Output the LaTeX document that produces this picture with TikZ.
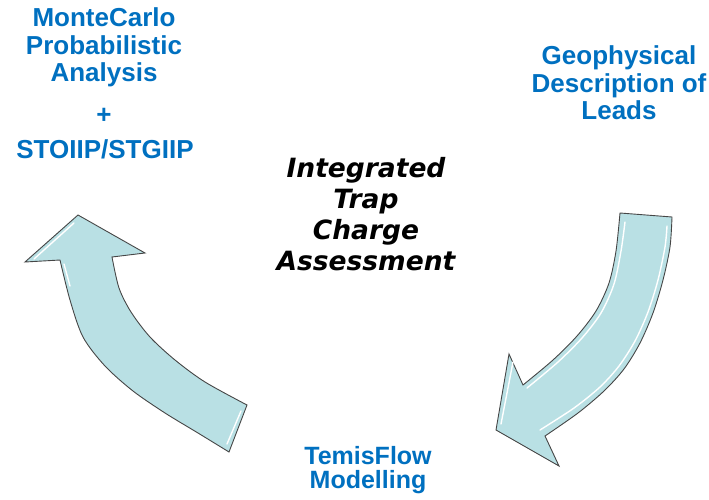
\documentclass[tikz,border=0pt]{standalone}
\usepackage{fontspec}
\setmainfont{Liberation Sans}
\newfontfamily\centerfont{DejaVu Sans}
\definecolor{arrowfill}{RGB}{185,224,228}
\definecolor{labelblue}{RGB}{0,112,192}
\definecolor{arrowline}{RGB}{70,70,70}

\begin{document}
\begin{tikzpicture}[x=1pt,y=-1pt,
  bigarrow/.style={fill=arrowfill, draw=arrowline, line width=0.9pt, line join=miter},
  gleam/.style={white, line width=1.4pt, line cap=round},
  % multi-line labels are anchored at the baseline of their last line
  bluelabel/.style={text=labelblue, font=\bfseries\fontsize{26}{27.5}\selectfont,
                    align=center, inner sep=0pt, anchor=base},
  centerlabel/.style={font=\centerfont\bfseries\itshape\fontsize{26.5}{31}\selectfont,
                      align=center, inner sep=0pt, anchor=base}]
\useasboundingbox (0,0) rectangle (709,500);

% curved arrow on the right, pointing down-left
\draw[bigarrow] (620,213) -- (672,217)
  -- plot[smooth] coordinates {(672,217) (670,247) (663,280) (653,313) (640,343) (624,369) (604,391) (578,413) (545,436)}
  -- (559,466) -- (496,430) -- (509,354)
  -- plot[smooth] coordinates {(523,385) (553,360) (577,336) (596,311) (609,283) (616,251) (620,213)}
  -- cycle;
\draw[gleam] plot[smooth] coordinates {(625,222) (621,251) (614,284) (601,313) (582,338) (558,362) (527,388)};
\draw[gleam] plot[smooth] coordinates {(667,226) (665,247) (658,280) (648,312) (635,341) (619,366) (600,387) (574,408) (540,430)};
\draw[gleam] (513,362) -- (501,424);

% curved arrow on the left, pointing up
\draw[bigarrow] (78,215) -- (145,253) -- (112,257)
  -- plot[smooth] coordinates {(112,257) (119,288) (131,312) (150,337) (175,360) (205,382) (247,405)}
  -- (229,452)
  -- plot[smooth] coordinates {(229,452) (198,433) (165,413) (133,391) (105,366) (83,337) (70,300) (60,260)}
  -- (25,262) -- cycle;
\draw[gleam] (34,259) -- (74,223);
\draw[gleam] (64,264) -- (70,286);
\draw[gleam] (241,411) -- (227,444);

% labels
\node[bluelabel] (mc) at (104,82) {MonteCarlo\\Probabilistic\\Analysis};
\node[bluelabel] (plus) at (104,124) {+};
\node[bluelabel] (stoiip) at (105,158) {STOIIP/STGIIP};
\node[bluelabel] (geo) at (619,120) {Geophysical\\Description of\\Leads};
\node[bluelabel, font=\bfseries\fontsize{25}{24.5}\selectfont] (temis) at (368,488.5) {TemisFlow\\Modelling};
\node[centerlabel] (itca) at (366,270) {Integrated\\Trap\\Charge\\Assessment};
\end{tikzpicture}
\end{document}
